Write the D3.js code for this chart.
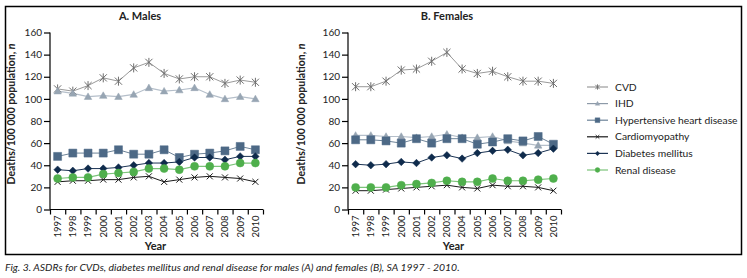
<!DOCTYPE html>
<html><head><meta charset="utf-8">
<script src="https://cdn.jsdelivr.net/npm/d3@7"></script>
<style>
body{margin:0;background:#fff;}
svg{display:block;}
text{font-family:Lato,"Open Sans",sans-serif;}
</style></head>
<body>
<svg id="c" width="747" height="278"></svg>
<script>
const years = ["1997","1998","1999","2000","2001","2002","2003","2004","2005","2006","2007","2008","2009","2010"];
const yTicks = [0,20,40,60,80,100,120,140,160];
const seriesNames = ["CVD","IHD","Hypertensive heart disease","Cardiomyopathy","Diabetes mellitus","Renal disease"];

// Males
const maleCVD   = [109,107,112,119,116,128,133,123,118,120,120,114,117,115];
const maleIHD   = [107,105,102,103,102,104,110,107,108,110,104,100,102,100];
const maleHHD   = [48,51,51,51,54,50,50,54,47,50,51,53,57,54];
const maleCardio= [25,26,26,27,27,29,30,25,27,29,30,29,28,25];
const maleDiab  = [36,35,37,37,38,40,42,42,43,47,47,45,48,48];
const maleRenal = [28,29,29,32,33,34,37,37,36,39,39,39,42,42];

// Females
const femCVD    = [111,111,116,126,127,134,142,127,123,125,120,116,116,114];
const femIHD    = [67,67,66,66,65,66,68,65,65,66,62,60,58,58];
const femHHD    = [63,63,62,60,64,60,64,64,59,61,64,62,66,59];
const femCardio = [17,17,18,19,20,21,22,20,19,22,21,21,20,17];
const femDiab   = [41,40,41,43,42,47,49,46,51,53,54,49,51,55];
const femRenal  = [20,20,20,22,23,24,26,25,25,28,26,26,27,28];

const styles = [
  {line:"#9a9a9a", lw:1, marker:"star", fill:"none", stroke:"#6e6e6e", size:9},
  {line:"#b5bfca", lw:1.2, marker:"tri", fill:"#97a5b3", stroke:"#97a5b3", size:7.5},
  {line:"#6d8398", lw:1, marker:"square", fill:"#4d6986", stroke:"#4d6986", size:8},
  {line:"#1a1a1a", lw:1, marker:"x", fill:"none", stroke:"#1a1a1a", size:6},
  {line:"#1c3454", lw:1, marker:"diamond", fill:"#0f2b4c", stroke:"#0f2b4c", size:7.5},
  {line:"#7cc47a", lw:1.2, marker:"circle", fill:"#4faf4c", stroke:"#4faf4c", size:8}
];

const svg = d3.select("#c");

function markerPath(type, s){
  const h = s/2;
  switch(type){
    case "star": { const d = h*0.8; return `M0,${-h}L0,${h}M${-d},${-d}L${d},${d}M${-d},${d}L${d},${-d}`; }
    case "x": return `M${-h},${-h}L${h},${h}M${-h},${h}L${h},${-h}`;
    case "tri": return `M0,${-h}L${h},${h*0.75}L${-h},${h*0.75}Z`;
    case "square": return `M${-h},${-h}H${h}V${h}H${-h}Z`;
    case "diamond": return `M0,${-h}L${h},0L0,${h}L${-h},0Z`;
    case "circle": return `M${h},0A${h},${h} 0 1,1 ${-h},0A${h},${h} 0 1,1 ${h},0Z`;
  }
}

// frame
svg.append("rect").attr("x",5.5).attr("y",6.5).attr("width",736).attr("height",248)
  .attr("fill","none").attr("stroke","#000").attr("stroke-width",1.5);

function panel(title, x0, x1, titleX, ytitleX, data){
  const y = d3.scaleLinear().domain([0,160]).range([209.5,32.5]);
  const xb = d3.scaleBand().domain(years).range([x0,x1]).padding(0);
  const xl = d3.scaleLinear().domain([0,years.length]).range([x0,x1]);
  const g = svg.append("g");

  // y axis
  const ya = g.append("g").attr("transform",`translate(${x0},0)`)
    .call(d3.axisLeft(y).tickValues(yTicks).tickSize(6).tickPadding(2));
  ya.selectAll("path,line").attr("stroke","#000").attr("stroke-width",1.2);
  ya.select(".domain").attr("d",`M0,${y(0)}V${y(160)}`);
  ya.selectAll("text").attr("font-size","10px").attr("fill","#222").attr("font-family","Lato,sans-serif");

  // x axis ticks at boundaries
  const xa = g.append("g").attr("transform",`translate(0,${y(0)})`)
    .call(d3.axisBottom(xl).tickValues(d3.range(years.length+1)).tickSize(5).tickFormat(""));
  xa.selectAll("path,line").attr("stroke","#000").attr("stroke-width",1.2);
  xa.select(".domain").attr("d",`M${x0},0H${x1}`);
  // labels
  const xlab = g.append("g").attr("transform",`translate(0,${y(0)})`)
    .call(d3.axisBottom(xb).tickSize(0).tickPadding(0));
  xlab.select(".domain").remove();
  xlab.selectAll("text").attr("font-size","9.5px").attr("fill","#222")
    .attr("transform","rotate(-90)").attr("text-anchor","end")
    .attr("dy","0.35em").attr("x",-6).attr("y",0);

  // titles
  g.append("text").attr("x",titleX).attr("y",20).attr("text-anchor","middle")
    .attr("font-size","11px").attr("font-weight","bold").attr("fill","#222").text(title);
  g.append("text").attr("x",(x0+x1)/2 - 1).attr("y",250).attr("text-anchor","middle")
    .attr("font-size","11px").attr("font-weight","bold").attr("fill","#222").text("Year");
  const yt = g.append("text").attr("transform",`translate(${ytitleX},114) rotate(-90)`)
    .attr("text-anchor","middle").attr("font-size","10.5px").attr("font-weight","bold").attr("fill","#222");
  yt.append("tspan").text("Deaths/100 000 population, ");
  yt.append("tspan").attr("font-style","italic").text("n");

  const line = d3.line().x((d,i)=>xb(years[i])+xb.bandwidth()/2).y(d=>y(d));
  data.forEach((vals,si)=>{
    const st = styles[si];
    g.append("path").datum(vals).attr("d",line).attr("fill","none")
      .attr("stroke",st.line).attr("stroke-width",st.lw);
  });
  data.forEach((vals,si)=>{
    const st = styles[si];
    g.selectAll(null).data(vals).enter().append("path")
      .attr("transform",(d,i)=>`translate(${xb(years[i])+xb.bandwidth()/2},${y(d)})`)
      .attr("d",markerPath(st.marker, st.size))
      .attr("fill",st.fill).attr("stroke",st.stroke)
      .attr("stroke-width",(st.marker==="star"||st.marker==="x")?1:0.5);
  });
}

panel("A. Males", 50, 263, 140, 15, [maleCVD,maleIHD,maleHHD,maleCardio,maleDiab,maleRenal]);
panel("B. Females", 348, 561, 447, 305, [femCVD,femIHD,femHHD,femCardio,femDiab,femRenal]);

// legend
const leg = svg.append("g");
seriesNames.forEach((name,i)=>{
  const st = styles[i];
  const yy = 87 + i*16.6;
  leg.append("line").attr("x1",587).attr("x2",608).attr("y1",yy).attr("y2",yy)
    .attr("stroke",st.line==="#b5bfca"?"#8d9aa8":st.line).attr("stroke-width",1.2);
  leg.append("path").attr("transform",`translate(597.5,${yy})`)
    .attr("d",markerPath(st.marker, st.size*0.6))
    .attr("fill",st.fill).attr("stroke",st.stroke).attr("stroke-width",(st.marker==="star"||st.marker==="x")?0.9:0.4);
  leg.append("text").attr("x",615).attr("y",yy).attr("dy","0.35em")
    .attr("font-size","10.3px").attr("fill","#222").text(name);
});

// caption
svg.append("text").attr("x",5).attr("y",271)
  .attr("font-family","'Liberation Serif',serif").attr("font-style","italic")
  .attr("font-size","10.4px").attr("fill","#222")
  .text("Fig. 3. ASDRs for CVDs, diabetes mellitus and renal disease for males (A) and females (B), SA 1997 - 2010.");
</script>
</body></html>
